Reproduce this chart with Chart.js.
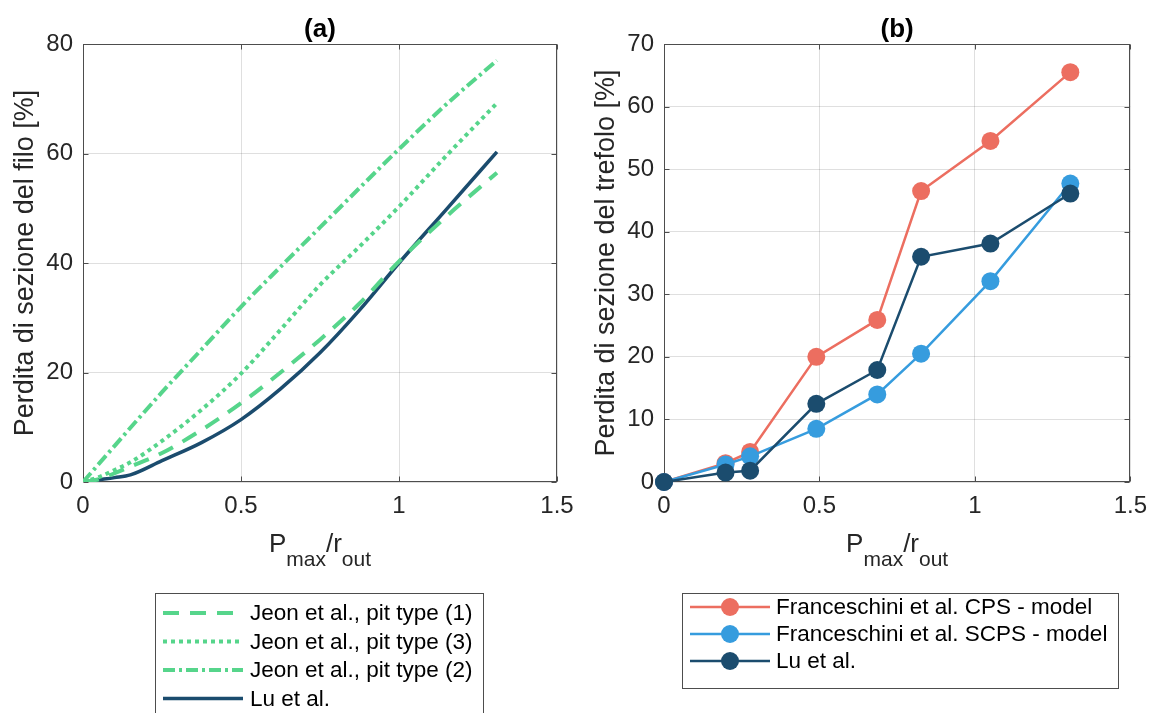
<!DOCTYPE html>
<html>
<head>
<meta charset="utf-8">
<script src="https://cdn.jsdelivr.net/npm/chart.js@4"></script>
<style>
  body { margin: 0; background: #fff; }
  #wrap { position: relative; width: 1157px; height: 713px; overflow: hidden; }
  canvas { position: absolute; top: 0; }
</style>
</head>
<body>
<div id="wrap">
  <canvas id="chartA" width="590" height="713" style="left:0"></canvas>
  <canvas id="chartB" width="567" height="713" style="left:590px"></canvas>
</div>
<script>
// --- dati (a): perdita di sezione del filo ---
const xWire = [0, 0.05, 0.1, 0.15, 0.25, 0.375, 0.5, 0.625, 0.75, 0.875, 1.0, 1.15, 1.31];
const jeonType1 = [0, 0.5, 1.6, 2.8, 5.3, 9.5, 14.4, 20, 26, 32.6, 40.3, 48.5, 56.5];
const jeonType3 = [0, 0.9, 2.2, 3.6, 7.5, 13.2, 19.8, 27.8, 36, 43, 50.3, 59.6, 69.2];
const jeonType2 = [0, 3.3, 6.6, 9.9, 16.4, 24.2, 32, 39.3, 46.5, 53.7, 60.8, 69, 77];
const luWire = [0, 0.4, 0.8, 1.3, 3.9, 7.2, 11.4, 17.0, 23.6, 31.4, 40, 49.8, 60.3];

// --- dati (b): perdita di sezione del trefolo ---
const xStrand = [0, 0.198, 0.277, 0.49, 0.686, 0.827, 1.05, 1.307];
const cpsModel = [0, 3, 4.8, 20, 25.9, 46.5, 54.5, 65.5];
const scpsModel = [0, 2.8, 4.1, 8.5, 14, 20.5, 32.1, 47.7];
const luStrand = [0, 1.5, 1.8, 12.5, 17.9, 36, 38.1, 46.1];

const FONT = '"Liberation Sans", Arial, Helvetica, sans-serif';
const TXT = '#262626';
const BOX = '#4d4d4d';
const GRID = 'rgba(38,38,38,0.15)';
const GREEN = '#56D58B';
const NAVY = '#1B4C6E';
const RED = '#EC6E60';
const BLUE = '#369CDE';

function pts(xs, ys) {
    return xs.map((x, i) => ({ x: x, y: ys[i] }));
}

// box, tacche interne, titoli, etichette e legenda
const panelDecor = {
    id: 'panelDecor',
    beforeDatasetsDraw(chart) {
        const ctx = chart.ctx;
        const a = chart.chartArea;
        const xs = chart.scales.x, ys = chart.scales.y;
        const L = Math.round(a.left) + 0.5, R = Math.round(a.right) - 0.5;
        const T = Math.round(a.top) + 0.5, B = Math.round(a.bottom) - 0.5;
        ctx.save();
        ctx.strokeStyle = BOX;
        ctx.lineWidth = 1;
        ctx.strokeRect(L, T, R - L, B - T);
        ctx.beginPath();
        xs.ticks.forEach(t => {
            const p = Math.round(xs.getPixelForValue(t.value)) + 0.5;
            ctx.moveTo(p, B); ctx.lineTo(p, B - 5);
            ctx.moveTo(p, T); ctx.lineTo(p, T + 5);
        });
        ys.ticks.forEach(t => {
            const p = Math.round(ys.getPixelForValue(t.value)) + 0.5;
            ctx.moveTo(L, p); ctx.lineTo(L + 5, p);
            ctx.moveTo(R, p); ctx.lineTo(R - 5, p);
        });
        ctx.stroke();
        ctx.restore();
    },
    afterDraw(chart, args, opts) {
        const ctx = chart.ctx;
        const a = chart.chartArea;
        const cx = (a.left + a.right) / 2;
        const cy = (a.top + a.bottom) / 2;
        ctx.save();
        ctx.fillStyle = '#000';
        ctx.textAlign = 'center';
        ctx.textBaseline = 'alphabetic';
        ctx.font = 'bold 26px ' + FONT;
        ctx.fillText(opts.title, cx, 37);

        // etichetta asse y
        ctx.fillStyle = TXT;
        ctx.font = '27px ' + FONT;
        ctx.save();
        ctx.translate(opts.yLabelX, cy);
        ctx.rotate(-Math.PI / 2);
        ctx.fillText(opts.yLabel, 0, 0);
        ctx.restore();

        // etichetta asse x con pedici
        const parts = [
            { t: 'P', sub: false }, { t: 'max', sub: true },
            { t: '/r', sub: false }, { t: 'out', sub: true }
        ];
        let total = 0;
        parts.forEach(p => {
            ctx.font = (p.sub ? '21px ' : '26px ') + FONT;
            p.w = ctx.measureText(p.t).width;
            total += p.w;
        });
        let x = cx - total / 2;
        ctx.textAlign = 'left';
        parts.forEach(p => {
            ctx.font = (p.sub ? '21px ' : '26px ') + FONT;
            ctx.fillText(p.t, x, p.sub ? 566 : 552);
            x += p.w;
        });

        // legenda
        const lg = opts.legend;
        ctx.strokeStyle = BOX;
        ctx.lineWidth = 1;
        ctx.setLineDash([]);
        ctx.fillStyle = '#fff';
        ctx.fillRect(lg.x, lg.y, lg.w, lg.h);
        ctx.strokeRect(lg.x + 0.5, lg.y + 0.5, lg.w, lg.h);
        ctx.font = '22.5px ' + FONT;
        ctx.textBaseline = 'middle';
        lg.items.forEach((idx, i) => {
            const ds = chart.data.datasets[idx];
            const y = lg.row0 + i * lg.step;
            ctx.save();
            ctx.strokeStyle = ds.borderColor;
            ctx.lineWidth = ds.borderWidth;
            ctx.setLineDash(ds.borderDash || []);
            ctx.beginPath();
            ctx.moveTo(lg.x1, y);
            ctx.lineTo(lg.x2, y);
            ctx.stroke();
            if (ds.pointRadius > 0) {
                ctx.fillStyle = ds.pointBackgroundColor;
                ctx.beginPath();
                ctx.arc((lg.x1 + lg.x2) / 2, y, ds.pointRadius, 0, Math.PI * 2);
                ctx.fill();
            }
            ctx.restore();
            ctx.fillStyle = '#000';
            ctx.fillText(ds.label, lg.tx, y + 1);
        });
        ctx.restore();
    }
};

function axisOptions(max, step, yWidth) {
    return {
        x: {
            type: 'linear', min: 0, max: 1.5,
            afterFit: s => { s.height = 231; },
            ticks: { stepSize: 0.5, padding: 10, maxRotation: 0, autoSkip: false,
                     callback: v => String(Number(v.toFixed(2))),
                     color: TXT, font: { family: FONT, size: 24 } },
            grid: { color: GRID, lineWidth: 1, drawTicks: false },
            border: { display: false }
        },
        y: {
            type: 'linear', min: 0, max: max,
            afterFit: s => { s.width = yWidth; },
            ticks: { stepSize: step, padding: 10,
                     color: TXT, font: { family: FONT, size: 24 } },
            grid: { color: GRID, lineWidth: 1, drawTicks: false },
            border: { display: false }
        }
    };
}

function lineSet(label, xs, ys, color, dash, width) {
    return {
        label: label,
        data: pts(xs, ys),
        borderColor: color,
        backgroundColor: color,
        borderWidth: width,
        borderDash: dash,
        pointRadius: 0,
        cubicInterpolationMode: 'monotone',
        fill: false
    };
}

function markerSet(label, xs, ys, color, order) {
    return {
        label: label,
        data: pts(xs, ys),
        borderColor: color,
        backgroundColor: color,
        pointBackgroundColor: color,
        pointBorderColor: color,
        borderWidth: 2.5,
        pointRadius: 9,
        pointBorderWidth: 0,
        tension: 0,
        clip: false,
        order: order,
        fill: false
    };
}

new Chart(document.getElementById('chartA'), {
    type: 'line',
    data: {
        datasets: [
            lineSet('Jeon et al., pit type (1)', xWire, jeonType1, GREEN, [16, 11], 4),
            lineSet('Jeon et al., pit type (3)', xWire, jeonType3, GREEN, [4, 4], 4),
            lineSet('Jeon et al., pit type (2)', xWire, jeonType2, GREEN, [12, 4, 3, 4], 4),
            lineSet('Lu et al.', xWire, luWire, NAVY, [], 3.5)
        ]
    },
    options: {
        responsive: false,
        animation: false,
        devicePixelRatio: 1,
        layout: { padding: { left: 0, right: 33, top: 44, bottom: 0 } },
        scales: axisOptions(80, 20, 83),
        plugins: {
            legend: { display: false },
            tooltip: { enabled: false },
            panelDecor: {
                title: '(a)',
                yLabel: 'Perdita di sezione del filo [%]',
                yLabelX: 33,
                legend: { x: 155, y: 593, w: 328, h: 140, x1: 163, x2: 243, tx: 250,
                          row0: 613, step: 28.5, items: [0, 1, 2, 3] }
            }
        }
    },
    plugins: [panelDecor]
});

new Chart(document.getElementById('chartB'), {
    type: 'line',
    data: {
        datasets: [
            markerSet('Franceschini et al. CPS - model', xStrand, cpsModel, RED, 3),
            markerSet('Franceschini et al. SCPS - model', xStrand, scpsModel, BLUE, 2),
            markerSet('Lu et al.', xStrand, luStrand, NAVY, 1)
        ]
    },
    options: {
        responsive: false,
        animation: false,
        devicePixelRatio: 1,
        layout: { padding: { left: 0, right: 19, top: 44, bottom: 0 } },
        scales: axisOptions(70, 10, 74),
        plugins: {
            legend: { display: false },
            tooltip: { enabled: false },
            panelDecor: {
                title: '(b)',
                yLabel: 'Perdita di sezione del trefolo [%]',
                yLabelX: 24,
                legend: { x: 92, y: 593, w: 436, h: 95, x1: 100, x2: 180, tx: 186,
                          row0: 607, step: 27, items: [0, 1, 2] }
            }
        }
    },
    plugins: [panelDecor]
});
</script>
</body>
</html>
